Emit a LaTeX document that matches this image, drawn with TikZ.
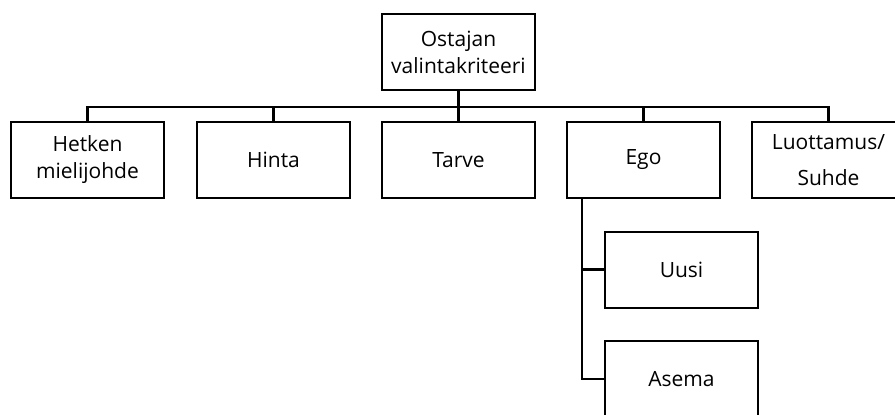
\documentclass[tikz,border=0pt]{standalone}
\usepackage{fontspec}
\setmainfont{Open Sans}
\begin{document}
\begin{tikzpicture}[x=1pt,y=-1pt,
  box/.style={draw=black, line width=2pt, fill=white, minimum width=153pt, minimum height=76pt, inner sep=0pt, align=center, font=\fontsize{21}{27}\selectfont},
  conn/.style={draw=black, line width=2.2pt}]
\useasboundingbox (0,0) rectangle (895,415);
\clip (0,0) rectangle (895,415);
\coordinate (bar) at (0,107);
\node[box] (top) at (458.5,52) {Ostajan\\valintakriteeri};
\node[box] (c1) at (87.5,160) {Hetken\\mielijohde};
\node[box] (c2) at (273.5,160) {Hinta};
\node[box] (c3) at (458.5,160) {Tarve};
\node[box] (c4) at (643.5,160) {Ego};
\node[box, font=\fontsize{21}{36}\selectfont] (c5) at (828.5,160) {Luottamus/\\Suhde};
\node[box] (uusi) at (681.5,269.5) {Uusi};
\node[box] (asema) at (681.5,379) {Asema};
\foreach \c in {c1,c2,c3,c4,c5}
  \draw[conn] (top.south) -- (top.south |- bar) -| (\c.north);
\draw[conn] ([xshift=16pt]c4.south west) |- (uusi.west);
\draw[conn] ([xshift=16pt]c4.south west) |- (asema.west);
\end{tikzpicture}
\end{document}
